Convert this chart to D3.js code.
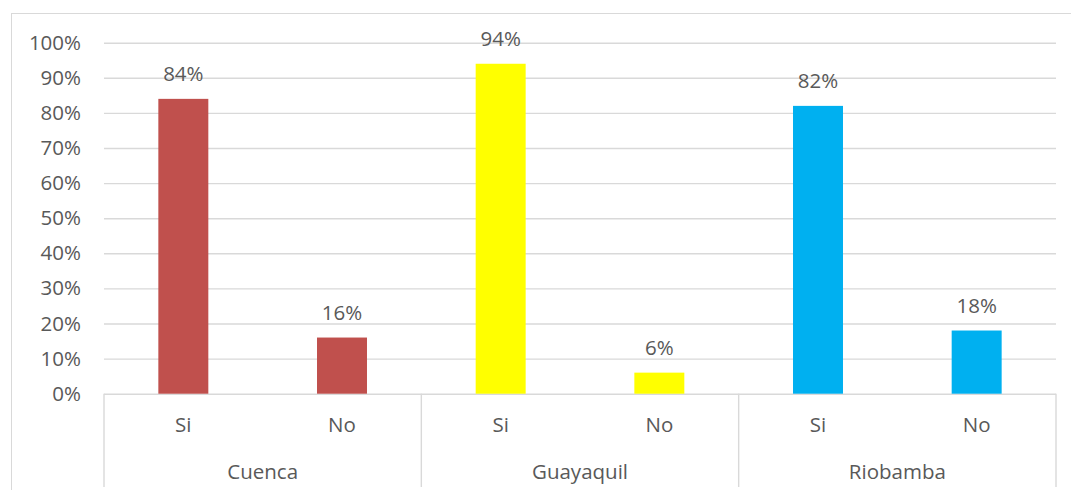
<!DOCTYPE html>
<html>
<head>
<meta charset="utf-8">
<script src="https://cdn.jsdelivr.net/npm/d3@7"></script>
<style>
  html, body { margin: 0; padding: 0; background: #fff; }
  svg { display: block; }
  text { font-family: "Open Sans", "Liberation Sans", sans-serif; fill: #595959; }
</style>
</head>
<body>
<svg id="chart" width="1071" height="490"></svg>
<script>
// Cities, answers and the share of each answer per city
const cities = ["Cuenca", "Guayaquil", "Riobamba"];
const answers = ["Si", "No"];
const cuenca = [0.84, 0.16];
const guayaquil = [0.94, 0.06];
const riobamba = [0.82, 0.18];
const cityColors = ["#C0504D", "#FFFF00", "#00B0F0"];
const yTicks = [0, 0.1, 0.2, 0.3, 0.4, 0.5, 0.6, 0.7, 0.8, 0.9, 1.0];

const seriesByCity = [cuenca, guayaquil, riobamba];
const rows = [];
cities.forEach((c, i) => answers.forEach((a, j) => rows.push({ city: c, answer: a, value: seriesByCity[i][j], color: cityColors[i] })));

const svg = d3.select("#chart");
const W = 1071, H = 490;
const plot = { left: 104, right: 1056, top: 42.7, bottom: 393.7 };
const fontSize = 20.5;

// chart frame
svg.append("rect")
  .attr("x", 11.5).attr("y", 13.5)
  .attr("width", W + 10).attr("height", H + 10)
  .attr("fill", "none").attr("stroke", "#d9d9d9").attr("stroke-width", 1);

const x0 = d3.scaleBand().domain(cities).range([plot.left, plot.right]).paddingInner(0).paddingOuter(0);
const x1 = d3.scaleBand().domain(answers).range([0, x0.bandwidth()]).paddingInner(0.685).paddingOuter(0.3425);
const y = d3.scaleLinear().domain([0, 1]).range([plot.bottom, plot.top]);

// horizontal gridlines
const grid = svg.append("g")
  .attr("transform", `translate(${plot.left},0)`)
  .call(d3.axisLeft(y).tickValues(yTicks).tickSize(-(plot.right - plot.left)).tickFormat(""));
grid.select(".domain").remove();
grid.selectAll(".tick line").attr("stroke", "#d9d9d9").attr("stroke-width", 1.4);

// y axis labels
const yAxis = svg.append("g")
  .attr("transform", `translate(${plot.left - 23},0)`)
  .call(d3.axisLeft(y).tickValues(yTicks).tickSize(0).tickPadding(0).tickFormat(d3.format(".0%")));
yAxis.select(".domain").remove();
yAxis.selectAll(".tick text").style("font-size", fontSize + "px").attr("fill", "#595959")
  .style("font-family", '"Open Sans", "Liberation Sans", sans-serif');

// bars
const groups = svg.append("g").selectAll("g").data(cities).join("g")
  .attr("transform", d => `translate(${x0(d)},0)`);

groups.selectAll("rect")
  .data(c => rows.filter(r => r.city === c))
  .join("rect")
  .attr("x", d => x1(d.answer))
  .attr("width", x1.bandwidth())
  .attr("y", d => y(d.value))
  .attr("height", d => y(0) - y(d.value))
  .attr("fill", d => d.color);

// value labels
groups.selectAll("text.val")
  .data(c => rows.filter(r => r.city === c))
  .join("text")
  .attr("class", "val")
  .attr("x", d => x1(d.answer) + x1.bandwidth() / 2)
  .attr("y", d => y(d.value) - 18)
  .attr("text-anchor", "middle")
  .style("font-size", fontSize + "px")
  .text(d => d3.format(".0%")(d.value));

// category axis: answers and cities with separators
groups.selectAll("text.ans")
  .data(answers)
  .join("text")
  .attr("class", "ans")
  .attr("x", d => x1(d) + x1.bandwidth() / 2)
  .attr("y", 432)
  .attr("text-anchor", "middle")
  .style("font-size", fontSize + "px")
  .text(d => d);

groups.append("text")
  .attr("x", x0.bandwidth() / 2)
  .attr("y", 479)
  .attr("text-anchor", "middle")
  .style("font-size", fontSize + "px")
  .text(d => d);

const seps = cities.map(c => x0(c)).concat([plot.right]);
svg.append("g").selectAll("line").data(seps).join("line")
  .attr("x1", d => d).attr("x2", d => d)
  .attr("y1", plot.bottom).attr("y2", 487)
  .attr("stroke", "#d9d9d9").attr("stroke-width", 1.4);
</script>
</body>
</html>
